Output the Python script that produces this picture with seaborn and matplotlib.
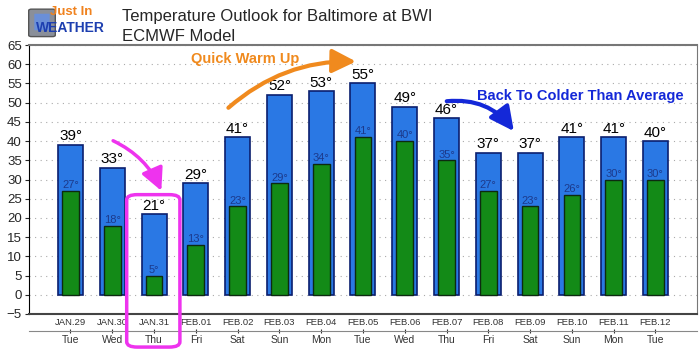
import numpy as np
import pandas as pd
import seaborn as sns
import matplotlib.pyplot as plt
from matplotlib.patches import FancyArrowPatch, FancyBboxPatch

dates = ["JAN.29", "JAN.30", "JAN.31", "FEB.01", "FEB.02", "FEB.03", "FEB.04", "FEB.05",
         "FEB.06", "FEB.07", "FEB.08", "FEB.09", "FEB.10", "FEB.11", "FEB.12"]
days = ["Tue", "Wed", "Thu", "Fri", "Sat", "Sun", "Mon", "Tue",
        "Wed", "Thu", "Fri", "Sat", "Sun", "Mon", "Tue"]
highs = [39, 33, 21, 29, 41, 52, 53, 55, 49, 46, 37, 37, 41, 41, 40]
lows = [27, 18, 5, 13, 23, 29, 34, 41, 40, 35, 27, 23, 26, 30, 30]

sns.set_style("white")
plt.rcParams['font.family'] = ['Liberation Sans', 'DejaVu Sans']

df = pd.DataFrame({'date': dates, 'high': highs, 'low': lows})

fig = plt.figure(figsize=(7, 3.52), dpi=100)
ax = fig.add_axes([0.041, 0.108, 0.955, 0.764])

# high bars (blue) then low bars (green) on top
sns.barplot(data=df, x='date', y='high', color='#2a78e4', saturation=1, width=0.6,
            edgecolor='#0b1f6e', linewidth=1.2, ax=ax, zorder=2)
sns.barplot(data=df, x='date', y='low', color='#138a17', saturation=1, width=0.4,
            edgecolor='#0d2a10', linewidth=1.0, ax=ax, zorder=3)

for i, (h, l) in enumerate(zip(highs, lows)):
    ax.text(i, h + 0.4, f"{h}°", ha='center', va='bottom', fontsize=11, color='black', zorder=5)
    ax.text(i, l + 0.2, f"{l}°", ha='center', va='bottom', fontsize=8, color='#1c3a8c', zorder=5)

ax.set_xlim(-1, 15)
ax.set_ylim(-5, 65)
ax.set_yticks(range(-5, 66, 5))
ax.tick_params(axis='y', labelsize=9.5, length=3, direction='out', left=True, pad=2)
ax.set_xticks(range(15), dates)
ax.tick_params(axis='x', labelsize=6.8, length=0, pad=3, colors='#333333')
ax.set_xlabel('')
ax.set_ylabel('')
ax.yaxis.grid(True, linestyle=(0, (1, 4)), color='#aaaaaa', linewidth=0.8)
ax.set_axisbelow(True)
for side in ['top', 'right']:
    ax.spines[side].set_color('#777777')
    ax.spines[side].set_linewidth(1.5)
ax.spines['right'].set_linewidth(0.8)
ax.spines['left'].set_color('black')
ax.spines['bottom'].set_color('#444444')
ax.spines['bottom'].set_linewidth(1.5)

# second row of labels: weekday names
sec = ax.secondary_xaxis(-0.065)
sec.set_xticks(range(15), days)
sec.tick_params(labelsize=7.5, length=3, direction='inout', colors='#333333', pad=1)
sec.spines['bottom'].set_color('#888888')

# titles and logo
fig.text(0.174, 0.975, "Temperature Outlook for Baltimore at BWI", fontsize=12, va='top')
fig.text(0.174, 0.918, "ECMWF Model", fontsize=12, va='top')
fig.patches.append(FancyBboxPatch((0.045, 0.90), 0.03, 0.07, boxstyle="round,pad=0.004",
                                  transform=fig.transFigure, facecolor='#8a8f99', edgecolor='#555555'))
fig.patches.append(FancyBboxPatch((0.05, 0.915), 0.02, 0.045, boxstyle="round,pad=0.001",
                                  transform=fig.transFigure, facecolor='#6a8fd8', edgecolor='none'))
fig.text(0.072, 0.948, "Just In", fontsize=9.5, fontweight='bold', color='#f0821e', va='bottom')
fig.text(0.052, 0.9, "WEATHER", fontsize=10, fontweight='bold', color='#1d3fb0', va='bottom')

# annotations
ax.text(4.17, 61.5, "Quick Warm Up", fontsize=10.5, fontweight='bold', color='#f08a1e',
        ha='center', va='center', zorder=6)
ax.text(12.2, 51.8, "Back To Colder Than Average", fontsize=10.5, fontweight='bold',
        color='#1428d8', ha='center', va='center', zorder=6)

arrow_style = "-|>,head_length=0.9,head_width=0.45"
ax.add_patch(FancyArrowPatch((3.73, 48.2), (6.9, 60.7), connectionstyle="arc3,rad=-0.2",
                             arrowstyle=arrow_style, color='#f08a1e',
                             linewidth=3, zorder=6, mutation_scale=16))
ax.add_patch(FancyArrowPatch((8.94, 50.3), (10.65, 42.0), connectionstyle="arc3,rad=-0.3",
                             arrowstyle=arrow_style, color='#1428d8',
                             linewidth=3, zorder=6, mutation_scale=16))
ax.add_patch(FancyArrowPatch((0.96, 40.4), (2.2, 26.4), connectionstyle="arc3,rad=-0.2",
                             arrowstyle=arrow_style, color='#ee33ee',
                             linewidth=2.5, zorder=6, mutation_scale=15))
fig.patches.append(FancyBboxPatch((0.185, 0.018), 0.068, 0.425, boxstyle="round,pad=0.004,rounding_size=0.015",
                                  transform=fig.transFigure, facecolor='none',
                                  edgecolor='#ee33ee', linewidth=2.5, zorder=10))

fig.savefig('out.png', dpi=100)
